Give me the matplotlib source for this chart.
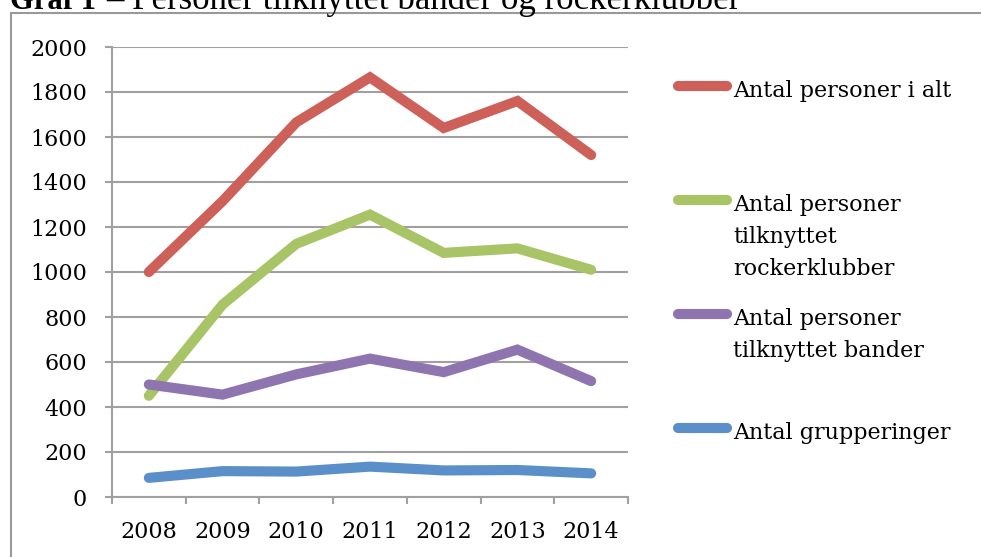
import matplotlib
matplotlib.use("Agg")
import matplotlib.pyplot as plt
from matplotlib.lines import Line2D
from matplotlib.patches import Rectangle

years = ["2008", "2009", "2010", "2011", "2012", "2013", "2014"]
personer_i_alt = [1000, 1315, 1665, 1865, 1640, 1760, 1520]
rockerklubber = [450, 855, 1125, 1255, 1085, 1105, 1010]
bander = [500, 455, 545, 615, 555, 655, 515]
grupperinger = [85, 115, 113, 135, 118, 120, 105]

series_labels = [
    "Antal personer i alt",
    "Antal personer\ntilknyttet\nrockerklubber",
    "Antal personer\ntilknyttet bander",
    "Antal grupperinger",
]
series_values = [personer_i_alt, rockerklubber, bander, grupperinger]
colors = ["#CD6058", "#A8C466", "#8E75B0", "#5B8FC9"]
yticks = list(range(0, 2001, 200))
title_bold = "Graf 1"
title_rest = "– Personer tilknyttet bander og rockerklubber"

W, H = 981, 557
fig = plt.figure(figsize=(W / 100, H / 100), dpi=100)
FONT = "DejaVu Serif"
TFONT = "Liberation Serif"
GRAY = "#A0A0A0"

def px(x, y):
    return x / W, 1 - y / H

# outer border
fig.patches.append(Rectangle(px(11, 600), (1000 - 11) / W, (600 - 13) / H,
                             transform=fig.transFigure, fill=False,
                             edgecolor="#999999", linewidth=1.5))

# title (cut off at top)
fig.text(*px(10, 9), title_bold, fontfamily=TFONT, fontweight="bold",
         fontsize=22, va="baseline", ha="left")
fig.text(*px(106, 9), title_rest, fontfamily=TFONT,
         fontsize=25, va="baseline", ha="left")

ax = fig.add_axes([112 / W, (H - 497) / H, (628 - 112) / W, 450 / H])
x = list(range(len(years)))
for vals, c in zip(series_values, colors):
    ax.plot(x, vals, color=c, linewidth=7.3, solid_capstyle="round",
            solid_joinstyle="miter", zorder=3)

ax.set_ylim(0, 2000)
ax.set_xlim(-0.5, len(years) - 0.5)
ax.set_yticks(yticks)
ax.set_yticklabels([str(t) for t in yticks], fontfamily=FONT, fontsize=16)
ax.set_xticks([i - 0.5 for i in range(len(years) + 1)])
ax.set_xticklabels([])
ax.set_xticks(x, minor=True)
ax.set_xticklabels(years, minor=True, fontfamily=FONT, fontsize=16)
ax.tick_params(axis="x", which="major", direction="out", length=5, width=1.5, color=GRAY)
ax.tick_params(axis="x", which="minor", length=0, pad=17)
ax.tick_params(axis="y", direction="out", length=5, width=1.5, color=GRAY, pad=13)
ax.grid(axis="y", color=GRAY, linewidth=1.5, zorder=1)
ax.set_axisbelow(True)
for s in ["top", "right"]:
    ax.spines[s].set_visible(False)
for s in ["left", "bottom"]:
    ax.spines[s].set_color(GRAY)
    ax.spines[s].set_linewidth(1.5)

# legend, placed manually
legend_line_y = [86, 200, 314, 428]
for lab, c, ly in zip(series_labels, colors, legend_line_y):
    fig.add_artist(Line2D([678 / W, 727 / W], [1 - ly / H, 1 - ly / H],
                          transform=fig.transFigure, color=c, linewidth=7.3,
                          solid_capstyle="round"))
    for k, line in enumerate(lab.split("\n")):
        fig.text(*px(733, ly + 11 + 32 * k), line, fontfamily=FONT,
                 fontsize=16, va="baseline", ha="left")

fig.savefig("out.png", dpi=100)
